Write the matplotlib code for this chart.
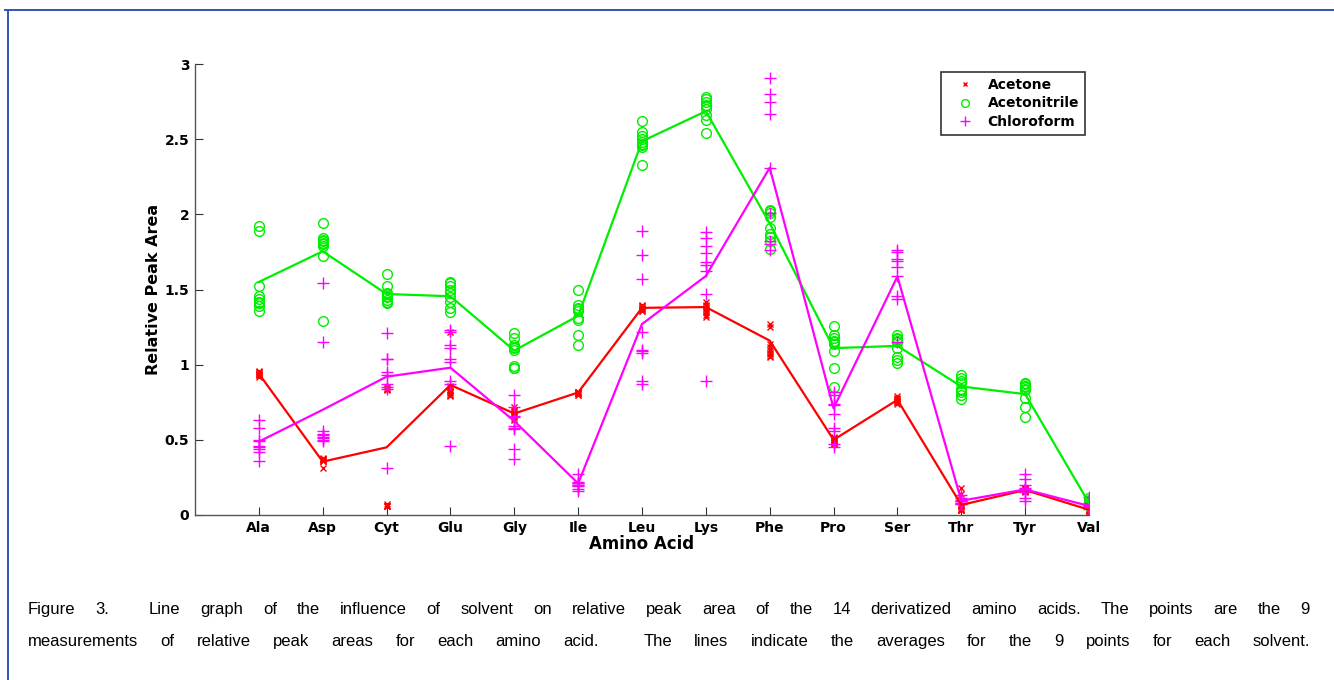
import matplotlib
matplotlib.use("Agg")
import matplotlib.pyplot as plt
from matplotlib.lines import Line2D
import numpy as np

amino_acids = ["Ala", "Asp", "Cyt", "Glu", "Gly", "Ile", "Leu",
               "Lys", "Phe", "Pro", "Ser", "Thr", "Tyr", "Val"]

# nine replicate relative peak areas per amino acid
acetone_pts = [
    [0.96, 0.95, 0.95, 0.94, 0.94, 0.94, 0.93, 0.93, 0.92],
    [0.38, 0.37, 0.37, 0.37, 0.37, 0.36, 0.36, 0.36, 0.31],
    [0.85, 0.84, 0.84, 0.83, 0.07, 0.06, 0.06, 0.06, 0.06],
    [1.22, 0.86, 0.85, 0.83, 0.82, 0.81, 0.80, 0.80, 0.79],
    [0.72, 0.70, 0.69, 0.68, 0.67, 0.66, 0.65, 0.64, 0.63],
    [0.82, 0.82, 0.82, 0.81, 0.81, 0.81, 0.81, 0.80, 0.80],
    [1.40, 1.39, 1.39, 1.38, 1.38, 1.37, 1.37, 1.36, 1.36],
    [1.42, 1.40, 1.39, 1.38, 1.37, 1.36, 1.35, 1.33, 1.32],
    [1.27, 1.25, 1.14, 1.12, 1.10, 1.08, 1.07, 1.06, 1.05],
    [0.52, 0.51, 0.50, 0.50, 0.49, 0.49, 0.48, 0.48, 0.47],
    [0.79, 0.78, 0.77, 0.77, 0.76, 0.76, 0.75, 0.75, 0.74],
    [0.18, 0.14, 0.06, 0.05, 0.04, 0.04, 0.03, 0.03, 0.03],
    [0.18, 0.18, 0.17, 0.17, 0.17, 0.16, 0.16, 0.16, 0.15],
    [0.05, 0.04, 0.04, 0.03, 0.03, 0.03, 0.02, 0.02, 0.02],
]
acetonitrile_pts = [
    [1.92, 1.89, 1.52, 1.46, 1.44, 1.42, 1.41, 1.39, 1.36],
    [1.94, 1.84, 1.83, 1.82, 1.81, 1.80, 1.79, 1.72, 1.29],
    [1.60, 1.52, 1.48, 1.47, 1.46, 1.45, 1.43, 1.42, 1.41],
    [1.55, 1.54, 1.52, 1.50, 1.48, 1.45, 1.42, 1.38, 1.35],
    [1.21, 1.18, 1.13, 1.12, 1.11, 1.10, 0.99, 0.98, 0.98],
    [1.50, 1.40, 1.38, 1.37, 1.36, 1.31, 1.30, 1.20, 1.13],
    [2.62, 2.55, 2.52, 2.50, 2.48, 2.47, 2.46, 2.45, 2.33],
    [2.78, 2.77, 2.75, 2.73, 2.72, 2.70, 2.66, 2.63, 2.54],
    [2.03, 2.02, 2.01, 1.98, 1.91, 1.87, 1.85, 1.82, 1.77],
    [1.26, 1.20, 1.18, 1.16, 1.15, 1.14, 1.09, 0.98, 0.85],
    [1.20, 1.18, 1.17, 1.16, 1.15, 1.11, 1.05, 1.03, 1.01],
    [0.93, 0.91, 0.89, 0.88, 0.84, 0.83, 0.82, 0.80, 0.77],
    [0.88, 0.87, 0.86, 0.85, 0.84, 0.83, 0.78, 0.72, 0.65],
    [0.11, 0.10, 0.09, 0.09, 0.08, 0.08, 0.07, 0.07, 0.06],
]
chloroform_pts = [
    [0.63, 0.58, 0.50, 0.49, 0.46, 0.45, 0.44, 0.42, 0.36],
    [1.54, 1.15, 0.56, 0.54, 0.53, 0.52, 0.51, 0.50, 0.49],
    [1.21, 1.04, 1.04, 0.95, 0.93, 0.87, 0.85, 0.84, 0.31],
    [1.23, 1.22, 1.13, 1.11, 1.04, 1.02, 0.89, 0.87, 0.46],
    [0.80, 0.72, 0.66, 0.65, 0.59, 0.58, 0.57, 0.44, 0.37],
    [0.27, 0.22, 0.21, 0.21, 0.20, 0.20, 0.19, 0.17, 0.16],
    [1.89, 1.73, 1.57, 1.22, 1.10, 1.09, 1.08, 0.89, 0.87],
    [1.88, 1.84, 1.79, 1.74, 1.68, 1.66, 1.62, 1.47, 0.89],
    [2.91, 2.80, 2.75, 2.67, 2.31, 2.01, 1.82, 1.80, 1.76],
    [0.82, 0.80, 0.74, 0.73, 0.67, 0.58, 0.56, 0.47, 0.45],
    [1.76, 1.75, 1.70, 1.69, 1.65, 1.59, 1.46, 1.44, 1.15],
    [0.13, 0.11, 0.10, 0.09, 0.09, 0.08, 0.08, 0.07, 0.07],
    [0.27, 0.24, 0.20, 0.18, 0.17, 0.16, 0.15, 0.11, 0.09],
    [0.12, 0.08, 0.07, 0.06, 0.06, 0.05, 0.05, 0.05, 0.04],
]

# averages drawn as lines
acetone_avg = [0.94, 0.355, 0.45, 0.865, 0.675, 0.815, 1.378,
               1.383, 1.16, 0.50, 0.766, 0.067, 0.166, 0.035]
acetonitrile_avg = [1.55, 1.754, 1.47, 1.455, 1.094, 1.325, 2.486,
                    2.686, 1.94, 1.11, 1.125, 0.855, 0.804, 0.08]
chloroform_avg = [0.488, 0.70, 0.92, 0.98, 0.625, 0.21, 1.27,
                  1.59, 2.31, 0.71, 1.587, 0.095, 0.17, 0.06]

solvents = ["Acetone", "Acetonitrile", "Chloroform"]

caption_lines = [
    "Figure 3.  Line graph of the influence of solvent on relative peak area "
    "of the 14 derivatized amino acids. The points are the 9",
    "measurements of relative peak areas for each amino acid.  The lines "
    "indicate the averages for the 9 points for each solvent.",
]

W, H = 1334, 680
fig = plt.figure(figsize=(W / 100, H / 100), dpi=100)
ax = fig.add_axes([195 / W, 165 / H, 894 / W, 451 / H])

x = np.arange(1, len(amino_acids) + 1)
styles = [
    dict(color="#ff0000", marker="x", ms=4, mew=1.0),
    dict(color="#00ee00", marker="o", ms=7, mew=1.0, mfc="none"),
    dict(color="#ff00ff", marker="+", ms=9, mew=1.0),
]

for pts, st in zip([acetone_pts, acetonitrile_pts, chloroform_pts], styles):
    arr = np.asarray(pts)
    xs = np.repeat(x, arr.shape[1])
    ax.plot(xs, arr.ravel(), linestyle="none", marker=st["marker"],
            ms=st["ms"], mew=st["mew"], color=st["color"],
            mfc=st.get("mfc", st["color"]))

for avg, st in zip([acetone_avg, acetonitrile_avg, chloroform_avg], styles):
    ax.plot(x, avg, color=st["color"], lw=1.6)

ax.set_xlim(0, 14)
ax.set_ylim(0, 3)
ax.set_xticks(x)
ax.set_xticklabels(amino_acids)
ax.set_yticks([0, 0.5, 1, 1.5, 2, 2.5, 3])
ax.set_yticklabels(["0", "0.5", "1", "1.5", "2", "2.5", "3"])
ax.tick_params(direction="in", length=6, width=0.8, color="#333333",
               labelsize=10, pad=4)
for lab in ax.get_xticklabels() + ax.get_yticklabels():
    lab.set_fontweight("bold")
for side in ["top", "right"]:
    ax.spines[side].set_visible(False)
for side in ["left", "bottom"]:
    ax.spines[side].set_color("#555555")
    ax.spines[side].set_linewidth(1.0)

ax.set_xlabel("Amino Acid", fontsize=12, fontweight="bold", labelpad=0)
ax.set_ylabel("Relative Peak Area", fontsize=11.5, fontweight="bold", labelpad=3)

handles = [Line2D([], [], linestyle="none", marker=st["marker"], ms=st["ms"] * 0.8,
                  mew=st["mew"], color=st["color"], mfc=st.get("mfc", st["color"]))
           for st in styles]
leg = fig.legend(handles, solvents, loc="upper left",
                 bbox_to_anchor=(941 / W, 1 - 72 / H),
                 prop=dict(weight="bold", size=10), frameon=True, fancybox=False,
                 edgecolor="black", handlelength=2.6, handletextpad=0.3,
                 borderpad=0.45, labelspacing=0.3, borderaxespad=0)
leg.get_frame().set_linewidth(1.2)

# blue frame along the top and left edges
fig.add_artist(Line2D([5 / W, 1], [1 - 10 / H, 1 - 10 / H], color="#2f55b5",
                      lw=1.4, transform=fig.transFigure))
fig.add_artist(Line2D([8 / W, 8 / W], [0, 1 - 10 / H], color="#2f55b5",
                      lw=1.4, transform=fig.transFigure))

# justified caption, placed word by word on a shared baseline
renderer = fig.canvas.get_renderer()
x_left, x_right = 28, 1310
for line, ypix in zip(caption_lines, [614, 646]):
    words = line.split(" ")
    texts = [fig.text(0, 1 - ypix / H, w, fontsize=12, family="Liberation Sans",
                      va="baseline", ha="left") for w in words]
    widths = [t.get_window_extent(renderer).width if w else 0
              for t, w in zip(texts, words)]
    gap = (x_right - x_left - sum(widths)) / (len(words) - 1)
    pos = x_left
    for t, wdt in zip(texts, widths):
        t.set_x(pos / W)
        pos += wdt + gap

fig.savefig("out.png", dpi=100)
